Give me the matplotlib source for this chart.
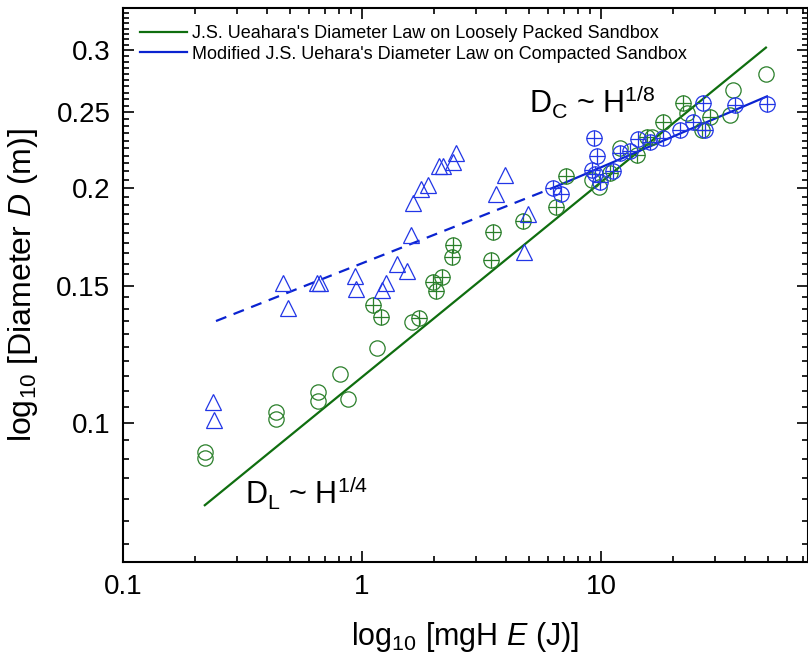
import matplotlib
matplotlib.use("Agg")
import matplotlib.pyplot as plt
from matplotlib.ticker import FixedLocator, NullFormatter, LogLocator

plt.rcParams['font.family'] = ['Liberation Sans', 'DejaVu Sans']
plt.rcParams['mathtext.fontset'] = 'custom'
plt.rcParams['mathtext.rm'] = 'Liberation Sans'
plt.rcParams['mathtext.it'] = 'Liberation Sans:italic'

GREEN = '#0f6e0f'
GREEN_M = '#2a7f2a'
BLUE = '#0a23d0'
BLUE_M = '#2236e6'

# loosely packed sandbox, open circles
loose_E = [0.220, 0.220, 0.436, 0.436, 0.655, 0.655, 0.809, 0.874, 1.155, 1.62,
           49.0, 35.7, 34.7, 22.9, 12.0, 16.3, 9.81, 9.17]
loose_D = [0.0918, 0.0902, 0.1033, 0.1012, 0.1096, 0.1067, 0.1155, 0.1073, 0.1247, 0.1347,
           0.2798, 0.2669, 0.248, 0.2494, 0.2249, 0.2323, 0.2005, 0.2047]

# loosely packed sandbox, circles with cross
loose2_E = [1.112, 1.20, 1.73, 1.98, 2.16, 2.04, 2.40, 2.38, 3.53, 3.47,
            4.72, 6.48, 7.14, 10.9, 14.2, 15.6, 18.2, 22.0, 28.6, 26.5]
loose2_D = [0.1416, 0.1367, 0.1363, 0.1515, 0.1538, 0.1476, 0.169, 0.1631, 0.1757, 0.1617,
            0.1814, 0.189, 0.2072, 0.2089, 0.2203, 0.2323, 0.2429, 0.2569, 0.2465, 0.2373]

# compacted sandbox, circles with cross
comp_E = [6.30, 6.80, 9.17, 9.44, 9.35, 9.62, 9.90, 11.2, 12.0, 13.2,
          14.3, 16.0, 18.2, 21.4, 24.3, 27.2, 26.7, 36.4, 49.5]
comp_D = [0.200, 0.1965, 0.2108, 0.2084, 0.2317, 0.2197, 0.2035, 0.2102, 0.2216, 0.223,
          0.2309, 0.2289, 0.2317, 0.2373, 0.2429, 0.2373, 0.2569, 0.2554, 0.2561]

# compacted sandbox, triangles
tri_E = [0.238, 0.240, 0.467, 0.490, 0.648, 0.667, 0.935, 0.944, 1.213, 1.26,
         1.40, 1.54, 1.60, 1.63, 1.77, 1.89, 2.10, 2.18, 2.40, 2.47,
         3.64, 3.97, 4.95, 4.76]
tri_D = [0.1064, 0.1009, 0.1511, 0.1404, 0.1511, 0.1511, 0.1543, 0.1484, 0.1480, 0.1511,
         0.1598, 0.1565, 0.1741, 0.1913, 0.1994, 0.2017, 0.2133, 0.2133, 0.2158, 0.2216,
         0.1965, 0.2077, 0.1852, 0.1656]

# fitted laws (end points)
lawL_E = [0.22, 49.0]
lawL_D = [0.0785, 0.3025]
lawC_dash_E = [0.245, 6.4]
lawC_dash_D = [0.1351, 0.2005]
lawC_E = [6.4, 49.5]
lawC_D = [0.2005, 0.262]

fig = plt.figure(figsize=(8.08, 6.59), dpi=100)
ax = fig.add_axes([0.1522, 0.1472, 0.8478, 0.8407])
ax.set_xscale('log')
ax.set_yscale('log')

ax.plot(lawL_E, lawL_D, color=GREEN, lw=1.6,
        label="J.S. Ueahara's Diameter Law on Loosely Packed Sandbox")
ax.plot(lawC_E, lawC_D, color=BLUE, lw=1.6,
        label="Modified J.S. Uehara's Diameter Law on Compacted Sandbox")
ax.plot(lawC_dash_E, lawC_dash_D, color=BLUE, lw=1.6, dashes=(5, 3.5))

ms = 11
ax.plot(loose_E, loose_D, 'o', ms=ms, mfc='none', mec=GREEN_M, mew=0.9, ls='none')
ax.plot(loose2_E, loose2_D, 'o', ms=ms, mfc='none', mec=GREEN_M, mew=0.9, ls='none')
ax.plot(loose2_E, loose2_D, '+', ms=ms, mec=GREEN_M, mew=0.9, ls='none')
ax.plot(comp_E, comp_D, 'o', ms=ms, mfc='none', mec=BLUE_M, mew=0.9, ls='none')
ax.plot(comp_E, comp_D, '+', ms=ms, mec=BLUE_M, mew=0.9, ls='none')
ax.plot(tri_E, tri_D, '^', ms=12, mfc='none', mec=BLUE_M, mew=0.9, ls='none')

ax.set_xlim(0.1, 73.5)
ax.set_ylim(0.0664, 0.34)

ax.xaxis.set_major_locator(FixedLocator([0.1, 1, 10]))
ax.xaxis.set_minor_locator(LogLocator(base=10, subs=range(2, 10)))
ax.xaxis.set_minor_formatter(NullFormatter())
ax.set_xticklabels(['0.1', '1', '10'])
ax.yaxis.set_major_locator(FixedLocator([0.1, 0.15, 0.2, 0.25, 0.3]))
ax.yaxis.set_minor_locator(FixedLocator([i / 200 for i in range(14, 69)]))
ax.yaxis.set_minor_formatter(NullFormatter())
ax.set_yticklabels(['0.1', '0.15', '0.2', '0.25', '0.3'])

ax.tick_params(which='both', direction='in', top=True, right=True, width=1.2)
ax.tick_params(which='major', length=8, labelsize=20, pad=9)
ax.tick_params(which='minor', length=4.5)
for s in ax.spines.values():
    s.set_linewidth(1.5)

ax.set_xlabel(r'log$_{\mathrm{10}}$ [mgH $\mathit{E}$ (J)]', fontsize=22, labelpad=14)
ax.set_ylabel(r'log$_{\mathrm{10}}$ [Diameter $\mathit{D}$ (m)]', fontsize=23, labelpad=12)

ax.text(5.0, 0.249, r'D$_{\mathrm{C}}$ ~ H$^{\mathrm{1/8}}$', fontsize=22)
ax.text(0.325, 0.0785, r'D$_{\mathrm{L}}$ ~ H$^{\mathrm{1/4}}$', fontsize=22)

ax.legend(loc='upper left', bbox_to_anchor=(0.0, 1.0), frameon=False, fontsize=13,
          handlelength=2.6, handletextpad=0.3, labelspacing=0.2, borderaxespad=0.55)

fig.savefig('out.png', dpi=100)
